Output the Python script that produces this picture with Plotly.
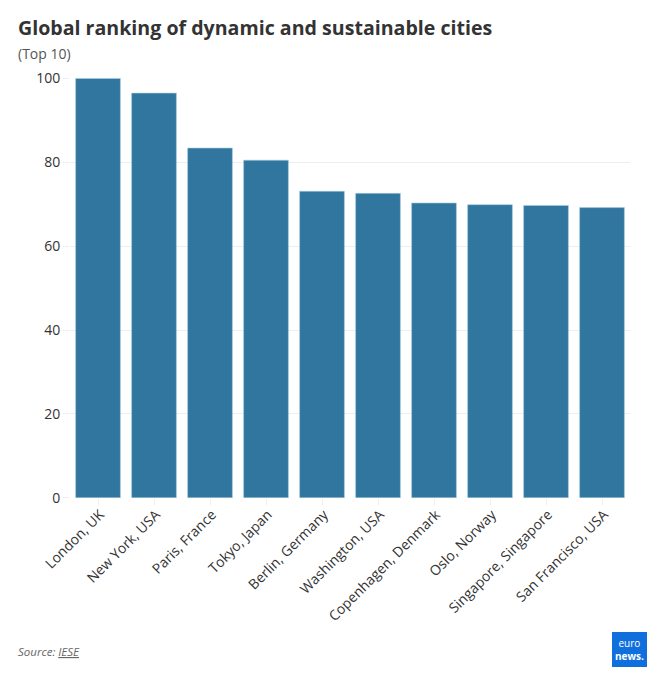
import plotly.graph_objects as go

cities = ["London, UK", "New York, USA", "Paris, France", "Tokyo, Japan", "Berlin, Germany",
          "Washington, USA", "Copenhagen, Denmark", "Oslo, Norway", "Singapore, Singapore", "San Francisco, USA"]
scores = [100, 96.5, 83.4, 80.5, 73.1, 72.6, 70.3, 69.9, 69.7, 69.2]
y_ticks = [0, 20, 40, 60, 80, 100]

W, H = 662, 681
L, R, T, B = 70, 630, 78, 498
FONT = "Open Sans"

def px(x): return (x - L) / (R - L)
def py(y): return (B - y) / (B - T)

fig = go.Figure(go.Bar(x=cities, y=scores, marker=dict(color="#31769f", line=dict(color="#a9cfe0", width=0.6)),
                       width=0.8, hoverinfo="x+y"))

def text(x, y, s, size, color, **kw):
    fig.add_annotation(xref="paper", yref="paper", x=px(x), y=py(y), text=s, showarrow=False,
                       xanchor=kw.pop("xanchor", "left"), yanchor="middle", xshift=-1,
                       font=dict(family=FONT, size=size, color=color), **kw)

text(17, 28, "<b>Global ranking of dynamic and sustainable cities</b>", 19.6, "#333333")
text(17, 54, "(Top 10)", 14, "#555555")
text(17, 651.5, "<i>Source: <u>IESE</u></i>", 11.5, "#666666")

fig.add_shape(type="rect", xref="paper", yref="paper", x0=px(612), x1=px(647), y0=py(667), y1=py(632),
              fillcolor="#0f6fdc", line_width=0, layer="above")
text(630, 649.5, "euro<br><b>news.</b>", 10, "white", xanchor="center", borderpad=0, borderwidth=0)

fig.update_layout(
    width=W, height=H, autosize=False, showlegend=False,
    paper_bgcolor="white", plot_bgcolor="white",
    margin=dict(l=L, r=W - R, t=T, b=H - B),
    font=dict(family=FONT, size=14, color="#333333"),
    xaxis=dict(tickangle=-45, ticks="outside", ticklen=6, tickcolor="#eeeeee", showgrid=False,
               showline=False, tickfont=dict(size=14, color="#333333"), automargin=False,
               ticklabelstandoff=-4, ticklabelshift=2),
    yaxis=dict(range=[-0.05, 100.1], tickvals=y_ticks, ticks="outside", ticklen=6, tickcolor="#eeeeee",
               gridcolor="#eeeeee", gridwidth=1, zeroline=False, showline=False,
               tickfont=dict(size=14, color="#333333"), automargin=False),
)
fig.write_html("out.html", config={"displayModeBar": False},
               post_script="document.body.style.margin='0';document.documentElement.style.overflow='hidden';")
